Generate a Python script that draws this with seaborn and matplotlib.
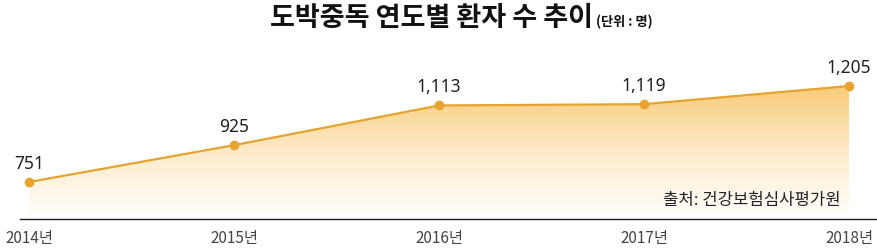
import numpy as np
import pandas as pd
import matplotlib
matplotlib.use("Agg")
import matplotlib.pyplot as plt
import seaborn as sns
from matplotlib.colors import LinearSegmentedColormap

years = [2014, 2015, 2016, 2017, 2018]
tick_labels = ["2014년", "2015년", "2016년", "2017년", "2018년"]
patients = [751, 925, 1113, 1119, 1205]
value_labels = ["751", "925", "1,113", "1,119", "1,205"]

title = "도박중독 연도별 환자 수 추이"
unit = "(단위 : 명)"
source = "출처: 건강보험심사평가원"

sns.set_theme(style="white")
plt.rcParams['font.family'] = ['Noto Sans CJK KR', 'DejaVu Sans']

W, H = 877, 249
fig = plt.figure(figsize=(W / 100, H / 100), dpi=100)

def fx(px):
    return px / W

def fy(py):
    return (H - py) / H

ax_left, ax_right, ax_bottom, ax_top = 20, 876, 219, 60
ax = fig.add_axes([fx(ax_left), fy(ax_bottom), fx(ax_right - ax_left), fy(ax_top) - fy(ax_bottom)])

df = pd.DataFrame({"year": years, "patients": patients})

ymin, ymax = 576, 1328
xmin, xmax = 2013.956, 2018.132
ax.set_xlim(xmin, xmax)
ax.set_ylim(ymin, ymax)

line_color = "#E6A330"

# gradient fill under line
poly = ax.fill_between(df["year"], df["patients"], ymin, color="none", lw=0)
cmap = LinearSegmentedColormap.from_list("g", ["#FFFFFF", "#FDEBCB", "#F8CB78"])
grad = np.linspace(0, 1, 256).reshape(-1, 1)
top_val = max(patients)
im = ax.imshow(grad, extent=[years[0], years[-1], ymin, top_val], origin="lower",
               aspect="auto", cmap=cmap, zorder=1)
path = poly.get_paths()[0]
im.set_clip_path(path, transform=ax.transData)

sns.lineplot(data=df, x="year", y="patients", ax=ax, color=line_color, lw=1.6,
             marker="o", markersize=7, markeredgewidth=0, zorder=3)

num_font = ['Noto Sans', 'Noto Sans CJK KR']
for x, y, lab in zip(years, patients, value_labels):
    ax.text(x, y + 86, lab, ha="center", va="center", fontsize=12.5, color="#222222",
            family=num_font, zorder=4)

ax.set_xticks(years)
ax.set_xticklabels(tick_labels, fontsize=11, color="#444444")
ax.tick_params(axis="x", length=0, pad=8)
ax.set_yticks([])
ax.set_xlabel("")
ax.set_ylabel("")
for s in ["top", "left", "right"]:
    ax.spines[s].set_visible(False)
ax.spines["bottom"].set_color("#222222")
ax.spines["bottom"].set_linewidth(1.0)

ax.text(2017.96, ymin + (219 - 200) / (219 - 60) * (ymax - ymin), source, ha="right",
        va="center", fontsize=12, color="#222222", zorder=4)

fig.text(fx(593), fy(18), title, ha="right", va="center", fontsize=19.5,
         fontweight="bold", color="#111111")
fig.text(fx(596), fy(22), unit, ha="left", va="center", fontsize=9.5,
         fontweight="bold", color="#111111")

fig.savefig("out.png", dpi=100, facecolor="white")
